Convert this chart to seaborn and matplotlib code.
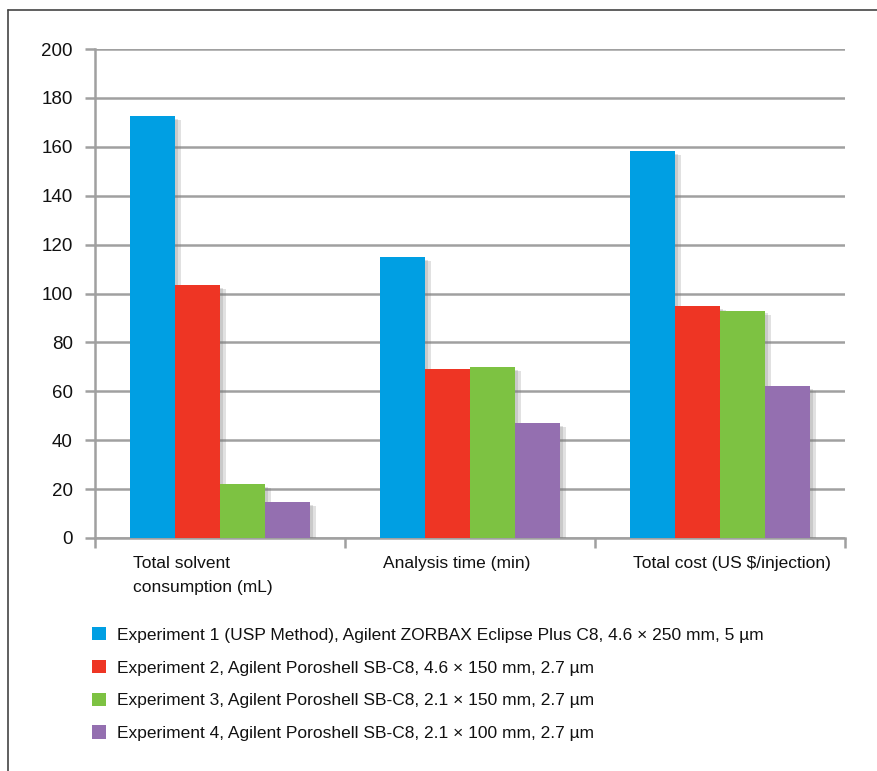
import matplotlib
matplotlib.use("Agg")
import matplotlib.pyplot as plt
import matplotlib.patheffects as pe
from matplotlib.lines import Line2D
from matplotlib.patches import Patch
import seaborn as sns
import pandas as pd

categories = ["Total solvent\nconsumption (mL)", "Analysis time (min)", "Total cost (US $/injection)"]
experiments = [
    "Experiment 1 (USP Method), Agilent ZORBAX Eclipse Plus C8, 4.6 × 250 mm, 5 µm",
    "Experiment 2, Agilent Poroshell SB-C8, 4.6 × 150 mm, 2.7 µm",
    "Experiment 3, Agilent Poroshell SB-C8, 2.1 × 150 mm, 2.7 µm",
    "Experiment 4, Agilent Poroshell SB-C8, 2.1 × 100 mm, 2.7 µm",
]
exp1 = [172.5, 115, 158.3]
exp2 = [103.5, 69, 95]
exp3 = [22, 70, 93]
exp4 = [14.7, 47, 62]
colors = ["#009fe3", "#ee3524", "#7dc242", "#946fb0"]
yticks = [0, 20, 40, 60, 80, 100, 120, 140, 160, 180, 200]

rows = []
for exp, vals in zip(experiments, [exp1, exp2, exp3, exp4]):
    for c, v in zip(categories, vals):
        rows.append({"Category": c, "Experiment": exp, "Value": v})
df = pd.DataFrame(rows)

sns.set_theme(style="white")
font = ["Liberation Sans", "DejaVu Sans"]
plt.rcParams["font.family"] = font

fig = plt.figure(figsize=(8.78, 7.71), dpi=100)
ax = fig.add_axes([95 / 878, 1 - 538 / 771, 750 / 878, 489 / 771])

sns.barplot(data=df, x="Category", y="Value", hue="Experiment", palette=colors,
            order=categories, hue_order=experiments, width=0.72, gap=0,
            ax=ax, legend=False, saturation=1, edgecolor="none", linewidth=0, zorder=3)

shadow = [pe.SimplePatchShadow(offset=(4, -3), shadow_rgbFace="#777777", alpha=0.22),
          pe.SimplePatchShadow(offset=(2.5, -2), shadow_rgbFace="#777777", alpha=0.22),
          pe.Normal()]
for p in ax.patches:
    p.set_path_effects(shadow)

ax.set_xlim(-0.5, 2.5)
ax.set_ylim(0, 200)
ax.set_yticks(yticks)
ax.set_yticklabels([str(t) for t in yticks], fontsize=13.5, color="#111111")
ax.yaxis.grid(True, color="#a0a0a0", linewidth=1.8, zorder=0)
ax.set_axisbelow(True)
ax.tick_params(axis="y", length=7, width=1.8, color="#a0a0a0", pad=9, left=True)

ax.set_xticks([-0.5, 0.5, 1.5, 2.5])
ax.set_xticklabels([])
ax.tick_params(axis="x", length=7, width=1.8, color="#a0a0a0", bottom=True, direction="out")
ax.set_xlabel("")
ax.set_ylabel("")
for s in ["top", "right"]:
    ax.spines[s].set_visible(False)
for s in ["left", "bottom"]:
    ax.spines[s].set_color("#a0a0a0")
    ax.spines[s].set_linewidth(1.8)

for i, c in enumerate(categories):
    ax.text(i - 0.36 + 0.012, -7.5, c, ha="left", va="top", fontsize=12.5,
            color="#111111", transform=ax.transData, linespacing=1.7)

handles = [Patch(facecolor=col, edgecolor="none") for col in colors]
fig.legend(handles, experiments, loc="upper left",
           bbox_to_anchor=(76 / 878, 1 - 611 / 771), frameon=False,
           fontsize=12.5, handlelength=0.85, handleheight=0.85, handletextpad=0.6,
           labelspacing=0.98, labelcolor="#111111")

# frame border
fig.add_artist(Line2D([8 / 878, 8 / 878], [0, 1 - 10 / 771], transform=fig.transFigure,
                      color="#444444", linewidth=1.2))
fig.add_artist(Line2D([8 / 878, 1], [1 - 10 / 771, 1 - 10 / 771], transform=fig.transFigure,
                      color="#444444", linewidth=1.2))

fig.savefig("out.png", dpi=100, facecolor="white")
